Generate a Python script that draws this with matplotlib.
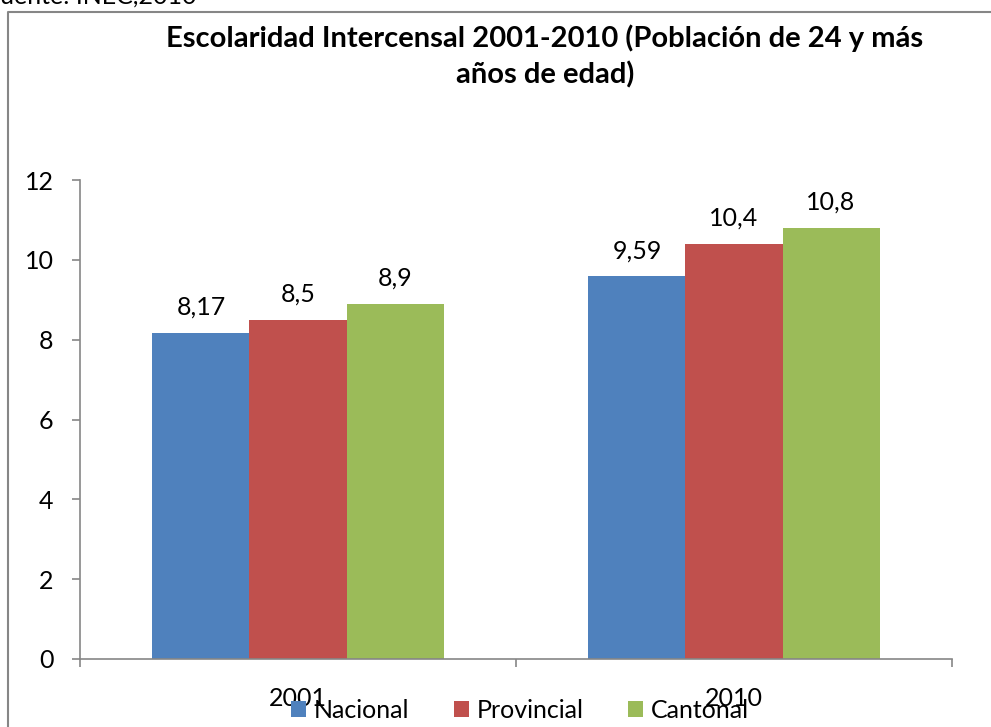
import numpy as np
import matplotlib
matplotlib.use('Agg')
import matplotlib.pyplot as plt
from matplotlib.lines import Line2D

plt.rcParams['font.family'] = ['Lato', 'DejaVu Sans']

# datos de escolaridad (años promedio)
anios = ['2001', '2010']
series = ['Nacional', 'Provincial', 'Cantonal']
nacional = [8.17, 9.59]
provincial = [8.5, 10.4]
cantonal = [8.9, 10.8]
etiquetas = [['8,17', '9,59'], ['8,5', '10,4'], ['8,9', '10,8']]
colores = ['#4F81BD', '#C0504D', '#9BBB59']
gris = '#868686'

W, H = 991, 727
fig = plt.figure(figsize=(W / 100, H / 100), dpi=100)

def caja(x0, y0, x1, y1):
    # convierte pixeles (desde arriba) a coordenadas de figura
    return [x0 / W, 1 - y1 / H, (x1 - x0) / W, (y1 - y0) / H]

ax = fig.add_axes(caja(80, 180, 952, 659))

x = np.arange(len(anios))
ancho = 0.2225
valores = [nacional, provincial, cantonal]
for i, (vals, nombre, col) in enumerate(zip(valores, series, colores)):
    pos = x + (i - 1) * ancho
    ax.bar(pos, vals, width=ancho, color=col, label=nombre, zorder=2)
    for xp, v, t in zip(pos, vals, etiquetas[i]):
        ax.text(xp, v + 0.35, t, ha='center', va='bottom', fontsize=18)

ax.set_xlim(-0.5, 1.5)
ax.set_ylim(0, 12)
ax.set_yticks(range(0, 13, 2))
ax.tick_params(axis='y', labelsize=18, length=6, width=1.2, color=gris, pad=13)
ax.set_xticks([-0.5, 0.5, 1.5])
ax.set_xticklabels([])
ax.tick_params(axis='x', length=6, width=1.2, color=gris)
ax.set_xticks(x, minor=True)
ax.set_xticklabels(anios, minor=True, fontsize=18)
ax.tick_params(axis='x', which='minor', length=0, pad=20)
for lado in ['top', 'right']:
    ax.spines[lado].set_visible(False)
for lado in ['left', 'bottom']:
    ax.spines[lado].set_color(gris)
    ax.spines[lado].set_linewidth(1.2)

fig.legend(loc='center', bbox_to_anchor=(520 / W, 1 - 710 / H), ncol=3,
           frameon=False, fontsize=18, handlelength=0.6, handleheight=0.6,
           handletextpad=0.3, columnspacing=1.8, borderpad=0)

fig.text(545 / W, 1 - 38 / H,
         'Escolaridad Intercensal 2001-2010 (Población de 24 y más',
         ha='center', va='center', fontsize=21, fontweight='bold')
fig.text(545 / W, 1 - 75 / H, 'años de edad)',
         ha='center', va='center', fontsize=21, fontweight='bold')

# fuente, cortada por el borde superior
fig.text(-14 / W, 1 - 4 / H, 'Fuente: INEC,2010', ha='left', va='baseline',
         fontsize=18)

# marco del gráfico
fig.add_artist(Line2D([8 / W, 8 / W, 1], [0, 1 - 12 / H, 1 - 12 / H],
                      color=gris, lw=1.5, transform=fig.transFigure))

fig.savefig('out.png', dpi=100)
